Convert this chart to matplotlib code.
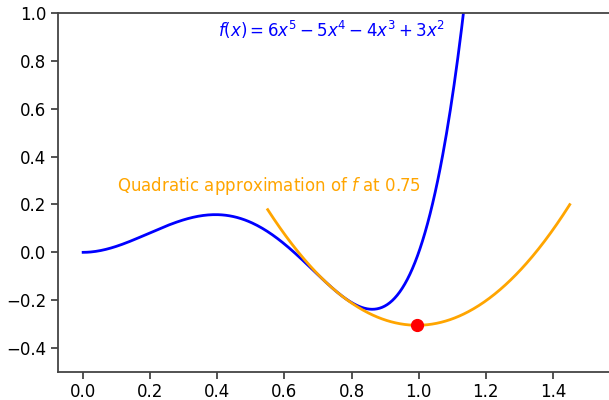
import matplotlib
matplotlib.use('Agg')
import matplotlib.pyplot as plt
import numpy as np

#======================================================================
# Dados ===============================================================
#======================================================================

coef_f = [6.0, -5.0, -4.0, 3.0, 0.0, 0.0]   # f(x) = 6x^5 - 5x^4 - 4x^3 + 3x^2
x0 = 0.75                                   # ponto da aproximacao quadratica
x_f = [0.0, 1.5]                            # intervalo de f
x_q = [0.55, 1.45]                          # intervalo da aproximacao

label_f = r'$f(x) = 6x^5 - 5x^4 - 4x^3 + 3x^2$'
label_q = r'Quadratic approximation of $f$ at 0.75'

xticks = [0.0, 0.2, 0.4, 0.6, 0.8, 1.0, 1.2, 1.4]
yticks = [-0.4, -0.2, 0.0, 0.2, 0.4, 0.6, 0.8, 1.0]

#======================================================================
# Funcao e aproximacao de Taylor ======================================
#======================================================================

d1 = np.polyder(coef_f, 1)
d2 = np.polyder(coef_f, 2)
f0 = np.polyval(coef_f, x0)
f1 = np.polyval(d1, x0)
f2 = np.polyval(d2, x0)

xf = np.linspace(x_f[0], x_f[1], 400)
xq = np.linspace(x_q[0], x_q[1], 400)
yf = np.polyval(coef_f, xf)
yq = f0 + f1*(xq - x0) + 0.5*f2*(xq - x0)**2

# minimo da quadratica (passo de Newton)
x_min = x0 - f1/f2
y_min = f0 + f1*(x_min - x0) + 0.5*f2*(x_min - x0)**2

#======================================================================
# Plot ================================================================
#======================================================================

fig = plt.figure(figsize=(6.09, 4.0), dpi=100)
ax = fig.add_axes([0.0952, 0.07, 0.9048, 0.8975])

ax.plot(xf, yf, color='blue', linewidth=2)
ax.plot(xq, yq, color='orange', linewidth=2)
ax.plot([x_min], [y_min], 'o', color='red', markersize=8.5)

ax.text(0.402, 0.93, label_f, color='blue', fontsize=12, va='center', ha='left')
ax.text(0.101, 0.279, label_q, color='orange', fontsize=12, va='center', ha='left')

ax.set_xlim(-0.075, 1.567)
ax.set_ylim(-0.5, 1.0)
ax.set_xticks(xticks)
ax.set_yticks(yticks)
ax.tick_params(labelsize=12, color='#444444', width=1.3, length=5)
ax.tick_params(axis='x', pad=3)

ax.spines['right'].set_visible(False)
for s in ['left', 'top', 'bottom']:
    ax.spines[s].set_color('#444444')
    ax.spines[s].set_linewidth(1.3)

plt.savefig('out.png', dpi=100)
